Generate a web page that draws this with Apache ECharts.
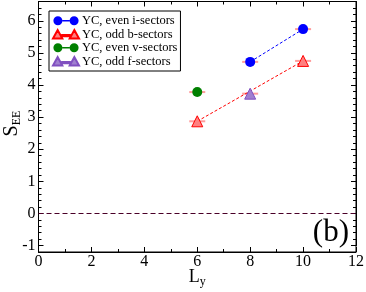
<!DOCTYPE html>
<html><head><meta charset="utf-8">
<script src="https://cdn.jsdelivr.net/npm/echarts@6/dist/echarts.min.js"></script>
<style>html,body{margin:0;padding:0;background:#fff}#c{width:366px;height:292px}</style>
</head><body><div id="c"></div>
<script>
const xTicks=[0,2,4,6,8,10,12];
const yTicks=[-1,0,1,2,3,4,5,6];
const iX=[8,10], iY=[4.72,5.74];
const bX=[6,10], bY=[2.87,4.75];
const vX=[6], vY=[3.78];
const fX=[8], fY=[3.73];
const names=['YC, even i-sectors','YC, odd b-sectors','YC, even v-sectors','YC, odd f-sectors'];
const zip=(a,b)=>a.map((v,i)=>[v,b[i]]);
const F='Liberation Serif';
const yMin=-1.2, yMax=6.6, tickMin=-1;
const gTop=1.5, gBottom=40, H=292;
const pxPerUnit=(H-gTop-gBottom)/(yMax-yMin);
const gBottom2=gBottom+(tickMin-yMin)*pxPerUnit;
const circPath='path://M0,5a5,5 0 1,0 10,0a5,5 0 1,0 -10,0zM10,4.3h8v1.4h-8zM18,5a5,5 0 1,0 10,0a5,5 0 1,0 -10,0z';
const triPath='path://M0,10L5,1L10,10zM10,6.3h8v1.4h-8zM18,10L23,1L28,10z';
const chart=echarts.init(document.getElementById('c'));
const errData=[].concat(zip(iX,iY),zip(bX,bY),zip(vX,vY),zip(fX,fY));
function tickAx(pos,label){
  return {gridIndex:1,type:'value',min:tickMin,max:yMax,interval:1,position:pos,
    axisLine:{show:true,onZero:false,lineStyle:{color:'#000'}},
    axisTick:{show:true,inside:true,length:5,lineStyle:{color:'#000'}},
    minorTick:{show:true,splitNumber:5,length:3,lineStyle:{color:'#000'}},
    splitLine:{show:false},
    axisLabel:{show:label,fontFamily:F,fontSize:16,color:'#000',margin:3,showMaxLabel:false}};
}
const y0=tickAx('left',true);
y0.name='{a|S}{s|EE}';y0.nameLocation='middle';y0.nameGap=16;y0.nameRotate=90;y0.nameMoveOverlap=false;
y0.nameTextStyle={rich:{a:{fontFamily:F,fontSize:20,color:'#000'},s:{fontFamily:F,fontSize:12,color:'#000',padding:[10,0,0,0]}}};
function xAx(pos,main){
  const o={gridIndex:0,type:'value',min:0,max:12,interval:2,position:pos,
    axisLine:{show:true,onZero:false,lineStyle:{color:'#000'}},
    axisTick:{show:true,inside:true,length:5,lineStyle:{color:'#000'}},
    minorTick:{show:true,splitNumber:2,length:3,lineStyle:{color:'#000'}},
    splitLine:{show:false},
    axisLabel:{show:main,fontFamily:F,fontSize:16,color:'#000',margin:2}};
  if(main){
    o.name='{a|L}{s|y}';o.nameLocation='middle';o.nameGap=14;o.nameMoveOverlap=false;
    o.nameTextStyle={rich:{a:{fontFamily:F,fontSize:18,color:'#000'},s:{fontFamily:F,fontSize:12,color:'#000',padding:[10,0,0,0]}}};
  }
  return o;
}
chart.setOption({
  animation:false,
  grid:[{left:38.5,right:10,top:gTop,bottom:gBottom,show:true,borderColor:'#000',borderWidth:1,containLabel:false,outerBoundsMode:'none'},
        {left:38.5,right:10,top:gTop,bottom:gBottom2,show:false,containLabel:false,outerBoundsMode:'none'}],
  legend:{left:49,top:11,orient:'vertical',itemWidth:26,itemHeight:9,itemGap:0,
    padding:[3,3,3,3],borderColor:'#000',borderWidth:1,backgroundColor:'#fff',
    textStyle:{fontFamily:F,fontSize:12.5,lineHeight:13.5,color:'#000',padding:[0,0,0,-2]},
    data:[{name:names[0],icon:circPath},{name:names[1],icon:triPath},{name:names[2],icon:circPath},{name:names[3],icon:triPath}]},
  xAxis:[xAx('bottom',true),xAx('top',false),
   {gridIndex:1,type:'value',min:0,max:12,show:false,axisLine:{onZero:false}}],
  yAxis:[{gridIndex:0,type:'value',min:yMin,max:yMax,axisLine:{show:true,onZero:false,lineStyle:{color:'#000'}},axisTick:{show:false},axisLabel:{show:false},splitLine:{show:false}},
         y0,tickAx('right',false)],
  graphic:[{type:'text',right:17,bottom:44,style:{text:'(b)',font:'31px "Liberation Serif"',fill:'#000'}}],
  series:[
    {type:'scatter',data:errData,symbol:'rect',symbolSize:[16,2],itemStyle:{color:'rgba(255,90,90,0.75)'},z:1,silent:true,
     markLine:{silent:true,symbol:'none',label:{show:false},lineStyle:{color:'#4a0028',type:[5,3],width:1},data:[{yAxis:0}]}},
    {name:names[0],type:'line',data:zip(iX,iY),symbol:'circle',symbolSize:10,color:'#0000ff',
     itemStyle:{color:'#0000ff'},lineStyle:{color:'#0000ff',type:[3,2],width:1},z:3},
    {name:names[1],type:'line',data:zip(bX,bY),symbol:'triangle',symbolSize:11,color:'#ff4040',
     itemStyle:{color:'#ff8080',borderColor:'#ff0000',borderWidth:1},lineStyle:{color:'#ff0000',type:[3,2],width:1},z:3},
    {name:names[2],type:'line',data:zip(vX,vY),symbol:'circle',symbolSize:10,color:'#008000',
     itemStyle:{color:'#008000'},lineStyle:{color:'#008000',width:1},z:3},
    {name:names[3],type:'line',data:zip(fX,fY),symbol:'triangle',symbolSize:11,color:'#9966cc',
     itemStyle:{color:'#a080d0',borderColor:'#8050c0',borderWidth:1},lineStyle:{color:'#9966cc',width:1},z:3}
  ]
});
</script></body></html>
